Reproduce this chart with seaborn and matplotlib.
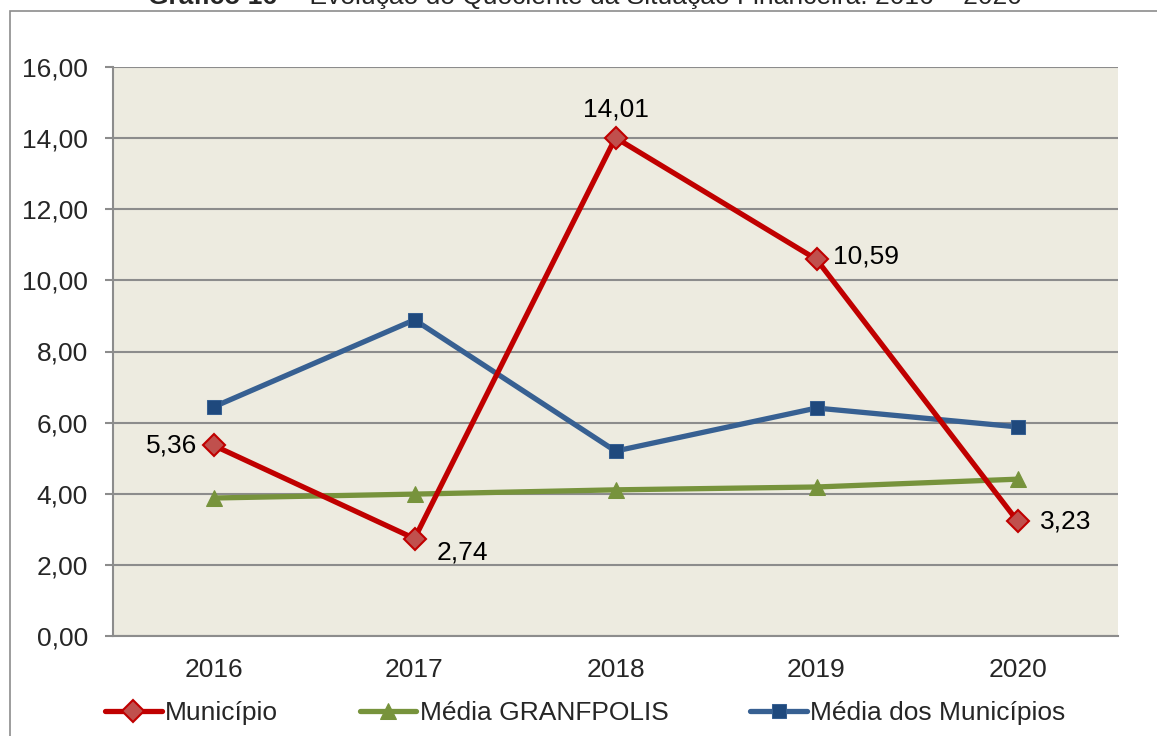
import matplotlib.pyplot as plt
import seaborn as sns
import pandas as pd

sns.set_theme(style="white")
plt.rcParams['font.family'] = ['Liberation Sans', 'DejaVu Sans']

anos = ['2016', '2017', '2018', '2019', '2020']
municipio = [5.36, 2.74, 14.01, 10.59, 3.23]
media_granfpolis = [3.88, 3.99, 4.11, 4.19, 4.41]
media_municipios = [6.44, 8.89, 5.20, 6.41, 5.88]
rotulos = ['5,36', '2,74', '14,01', '10,59', '3,23']

df = pd.DataFrame({'pos': range(len(anos)), 'ano': anos,
                   'Município': municipio,
                   'Média GRANFPOLIS': media_granfpolis,
                   'Média dos Municípios': media_municipios})

fig = plt.figure(figsize=(11.57, 7.36), dpi=100)
ax = fig.add_axes([113/1157, 1-636/736, (1118-113)/1157, (636-67)/736])
ax.set_facecolor('#EDEBE0')

# moldura externa
fig.patches.append(plt.Rectangle((10/1157, -0.1), 1.2, 1-11/736+0.1, transform=fig.transFigure,
                                 fill=False, edgecolor='#8C8C8C', lw=1.2))

sns.lineplot(data=df, x='pos', y='Município', ax=ax, color='#C00000', lw=3.8,
             marker='D', markersize=11, markerfacecolor='#C0504D', markeredgecolor='#C00000',
             markeredgewidth=1.5, label='Município', zorder=4)
sns.lineplot(data=df, x='pos', y='Média GRANFPOLIS', ax=ax, color='#77933C', lw=3.8,
             marker='^', markersize=12, markerfacecolor='#77933C', markeredgecolor='#77933C',
             label='Média GRANFPOLIS', zorder=3)
sns.lineplot(data=df, x='pos', y='Média dos Municípios', ax=ax, color='#376092', lw=3.8,
             marker='s', markersize=10, markerfacecolor='#1F497D', markeredgecolor='#376092',
             label='Média dos Municípios', zorder=3)

ax.set_xlim(-0.5, 4.5)
ax.set_ylim(0, 16)
ax.set_yticks(range(0, 17, 2))
ax.set_yticklabels([f'{v},00' for v in range(0, 17, 2)], fontsize=19)
ax.set_xticks(df['pos'])
ax.set_xticklabels(anos, fontsize=19)
ax.set_xlabel('')
ax.set_ylabel('')
ax.grid(axis='y', color='#8C8C8C', lw=1.5)
ax.set_axisbelow(True)
for s in ['top', 'right']:
    ax.spines[s].set_visible(False)
for s in ['left', 'bottom']:
    ax.spines[s].set_color('#8C8C8C')
    ax.spines[s].set_linewidth(1.5)
ax.tick_params(axis='y', left=True, length=6, color='#8C8C8C', width=1.5, pad=12)
ax.tick_params(axis='x', bottom=False, pad=10)

# rótulos de dados
offsets = [(-12, 0, 'right', 'center'), (16, -10, 'left', 'center'), (0, 12, 'center', 'bottom'),
           (12, 2, 'left', 'center'), (16, 0, 'left', 'center')]
for i, (dx, dy, ha, va) in enumerate(offsets):
    ax.annotate(rotulos[i], (i, municipio[i]), xytext=(dx, dy), textcoords='offset points',
                ha=ha, va=va, fontsize=19, color='black')

leg = ax.legend(loc='center left', bbox_to_anchor=(105/1157, 1-713/736), bbox_transform=fig.transFigure,
                ncol=3, frameon=False, fontsize=19, handlelength=2.15, handletextpad=0.12,
                columnspacing=3.1, borderpad=0, borderaxespad=0)

fig.text(277/1157, 1-4/736, 'Gráfico 16', ha='right', va='baseline', fontsize=19, fontweight='bold')
fig.text(280/1157, 1-4/736, ' – Evolução do Quociente da Situação Financeira: 2016 – 2020',
         ha='left', va='baseline', fontsize=19)

fig.savefig('out.png', dpi=100)
